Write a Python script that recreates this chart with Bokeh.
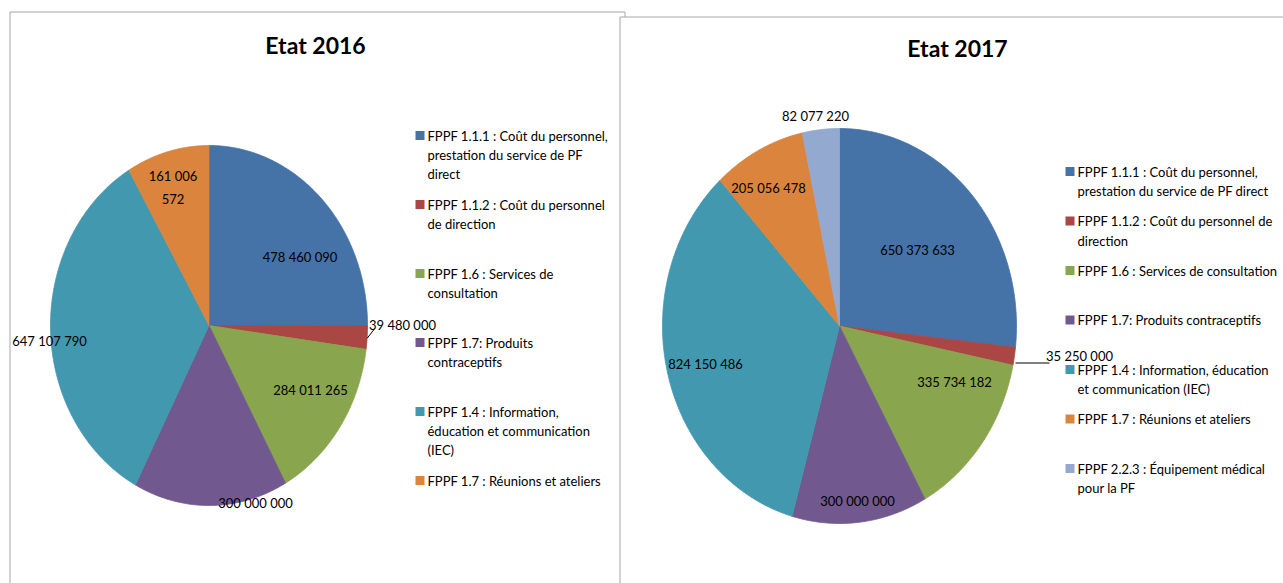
import numpy as np
from bokeh.plotting import figure
from bokeh.models import Range1d
from bokeh.core.properties import value
from bokeh.embed import file_html
from bokeh.resources import INLINE

# ---------------- DATA ----------------
titles = ["Etat 2016", "Etat 2017"]

legend_2016 = [
    ["FPPF 1.1.1 : Coût du personnel,", "prestation du service de PF", "direct"],
    ["FPPF 1.1.2 : Coût du personnel", "de direction"],
    ["FPPF 1.6 : Services de", "consultation"],
    ["FPPF 1.7: Produits", "contraceptifs"],
    ["FPPF 1.4 : Information,", "éducation et communication", "(IEC)"],
    ["FPPF 1.7 : Réunions et ateliers"],
]
values_2016 = [478460090, 39480000, 284011265, 300000000, 647107790, 161006572]

legend_2017 = [
    ["FPPF 1.1.1 : Coût du personnel,", "prestation du service de PF direct"],
    ["FPPF 1.1.2 : Coût du personnel de", "direction"],
    ["FPPF 1.6 : Services de consultation"],
    ["FPPF 1.7: Produits contraceptifs"],
    ["FPPF 1.4 : Information,  éducation", "et communication  (IEC)"],
    ["FPPF 1.7 : Réunions et ateliers"],
    ["FPPF 2.2.3 : Équipement médical", "pour la PF"],
]
values_2017 = [650373633, 35250000, 335734182, 300000000, 824150486, 205056478, 82077220]

colors = ["#4572A7", "#AA4643", "#89A54E", "#71588F", "#4198AF", "#DB843D", "#93A9CF"]

# ---------------- LAYOUT ----------------
W, H = 1283, 583
FONT = value("Lato")


def Y(s):
    # screen y (pixels from top) -> data y
    return H - s


def fmt(v):
    return f"{v:,}".replace(",", " ")


p = figure(width=W, height=H, x_range=Range1d(0, W), y_range=Range1d(0, H),
           output_backend="svg", toolbar_location=None, min_border=0,
           x_axis_type=None, y_axis_type=None)
p.grid.visible = False
p.outline_line_color = None
p.background_fill_color = "white"
p.border_fill_color = "white"

# chart frames
p.quad(left=[9.5], right=[624.5], top=[Y(11.5)], bottom=[Y(700)],
       fill_alpha=0, line_color="#a6a6a6", line_width=1)
p.quad(left=[619.5], right=[1400], top=[Y(16.5)], bottom=[Y(700)],
       fill_color="white", line_color="#a6a6a6", line_width=1)


def draw_pie(vals, cx, cy, rx, ry):
    total = float(sum(vals))
    cum = 0.0
    xs, ys = [], []
    for v in vals:
        t0 = cum / total * 2 * np.pi
        t1 = (cum + v) / total * 2 * np.pi
        n = max(4, int((t1 - t0) / (np.pi / 360)) + 2)
        th = np.linspace(t0, t1, n)
        x = np.concatenate([[cx], cx + rx * np.sin(th)])
        y = np.concatenate([[Y(cy)], Y(cy - ry * np.cos(th))])
        xs.append(list(x))
        ys.append(list(y))
        cum += v
    p.patches(xs, ys, fill_color=colors[:len(vals)], line_color=colors[:len(vals)],
              line_width=0.8)


def draw_labels(texts, pos):
    p.text(x=[q[0] for q in pos], y=[Y(q[1]) for q in pos], text=texts,
           text_font=FONT, text_font_size="13px", text_align="center",
           text_baseline="middle", text_color="black", text_line_height=1.45)


def draw_legend(entries, x0, y0, step, lh):
    sx, sy, tx, ty, tt = [], [], [], [], []
    for i, lines in enumerate(entries):
        yy = y0 + i * step
        sx.append(x0 + 4.5)
        sy.append(Y(yy))
        for j, ln in enumerate(lines):
            tx.append(x0 + 12)
            ty.append(Y(yy + j * lh))
            tt.append(ln)
    p.rect(x=sx, y=sy, width=9, height=9, fill_color=colors[:len(entries)], line_color=None)
    p.text(x=tx, y=ty, text=tt, text_font=FONT, text_font_size="13px",
           text_align="left", text_baseline="middle", text_color="black")


# ---- 2016 ----
draw_pie(values_2016, 208.5, 325, 158.5, 180)
lab16 = [fmt(v) for v in values_2016]
head, tail = lab16[5].rsplit(" ", 1)
lab16[5] = head + "\n" + tail
pos16 = [(299.5, 256), (402, 324), (310, 389), (255, 502), (49, 340), (172.5, 187)]
draw_labels(lab16, pos16)
p.line(x=[366.7, 373.5], y=[Y(337.7), Y(329)], line_color="black", line_width=1)
draw_legend(legend_2016, 415, 135, 69, 19.3)

# ---- 2017 ----
draw_pie(values_2017, 839, 325.5, 177, 197.5)
lab17 = [fmt(v) for v in values_2017]
pos17 = [(917, 249), (1079, 355), (954, 381), (857, 500), (705, 363), (768, 187), (815, 115)]
draw_labels(lab17, pos17)
p.line(x=[1015, 1049], y=[Y(362.5), Y(362.5)], line_color="black", line_width=1)
draw_legend(legend_2017, 1065, 171, 49.5, 19.5)

# titles
p.text(x=[315, 957], y=[Y(44), Y(47)], text=titles, text_font=FONT,
       text_font_size="23px", text_font_style="bold", text_align="center",
       text_baseline="middle", text_color="black")

open("out.html", "w").write(file_html(p, INLINE))
